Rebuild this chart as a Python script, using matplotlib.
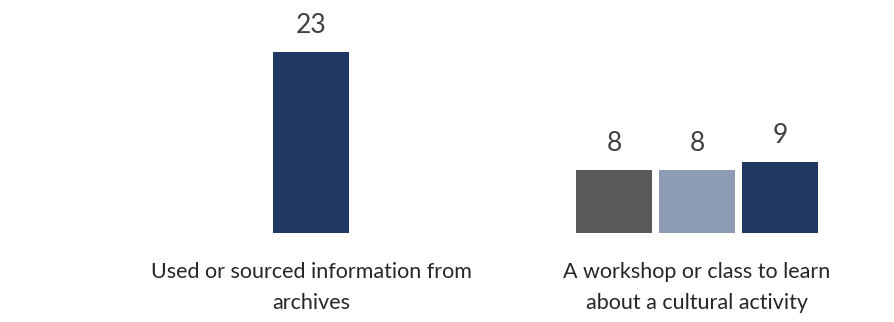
import matplotlib.pyplot as plt
import numpy as np

categories = ["Used or sourced information from\narchives",
              "A workshop or class to learn\nabout a cultural activity"]
series_colors = ["#595959", "#8E9BB5", "#203864"]
# None = no value for that series in the group
values = [
    [None, None, 23],
    [8, 8, 9],
]

plt.rcParams['font.family'] = ['Lato', 'DejaVu Sans']

fig = plt.figure(figsize=(8.94, 3.22), dpi=100)
ax = fig.add_axes([0, 89 / 322, 1, 233 / 322])

bar_w = 0.197
step = 0.215
for gi, group in enumerate(values):
    present = [(si, v) for si, v in enumerate(group) if v is not None]
    n = len(present)
    for k, (si, v) in enumerate(present):
        x = gi + (k - (n - 1) / 2) * step
        ax.bar(x, v, width=bar_w, color=series_colors[si])
        ax.annotate(str(v), (x, v), xytext=(0, 10), textcoords="offset points",
                    ha="center", va="bottom", fontsize=19, color="#404040")

ax.set_xlim(-311 / 386, 583 / 386)
ax.set_ylim(0, 233 / 7.87)
ax.set_xticks(range(len(categories)))
ax.set_xticklabels(categories, fontsize=15.5, color="#262626", linespacing=1.65)
ax.tick_params(axis="x", length=0, pad=21)
ax.set_yticks([])
for s in ax.spines.values():
    s.set_visible(False)

fig.savefig("out.png", dpi=100)
